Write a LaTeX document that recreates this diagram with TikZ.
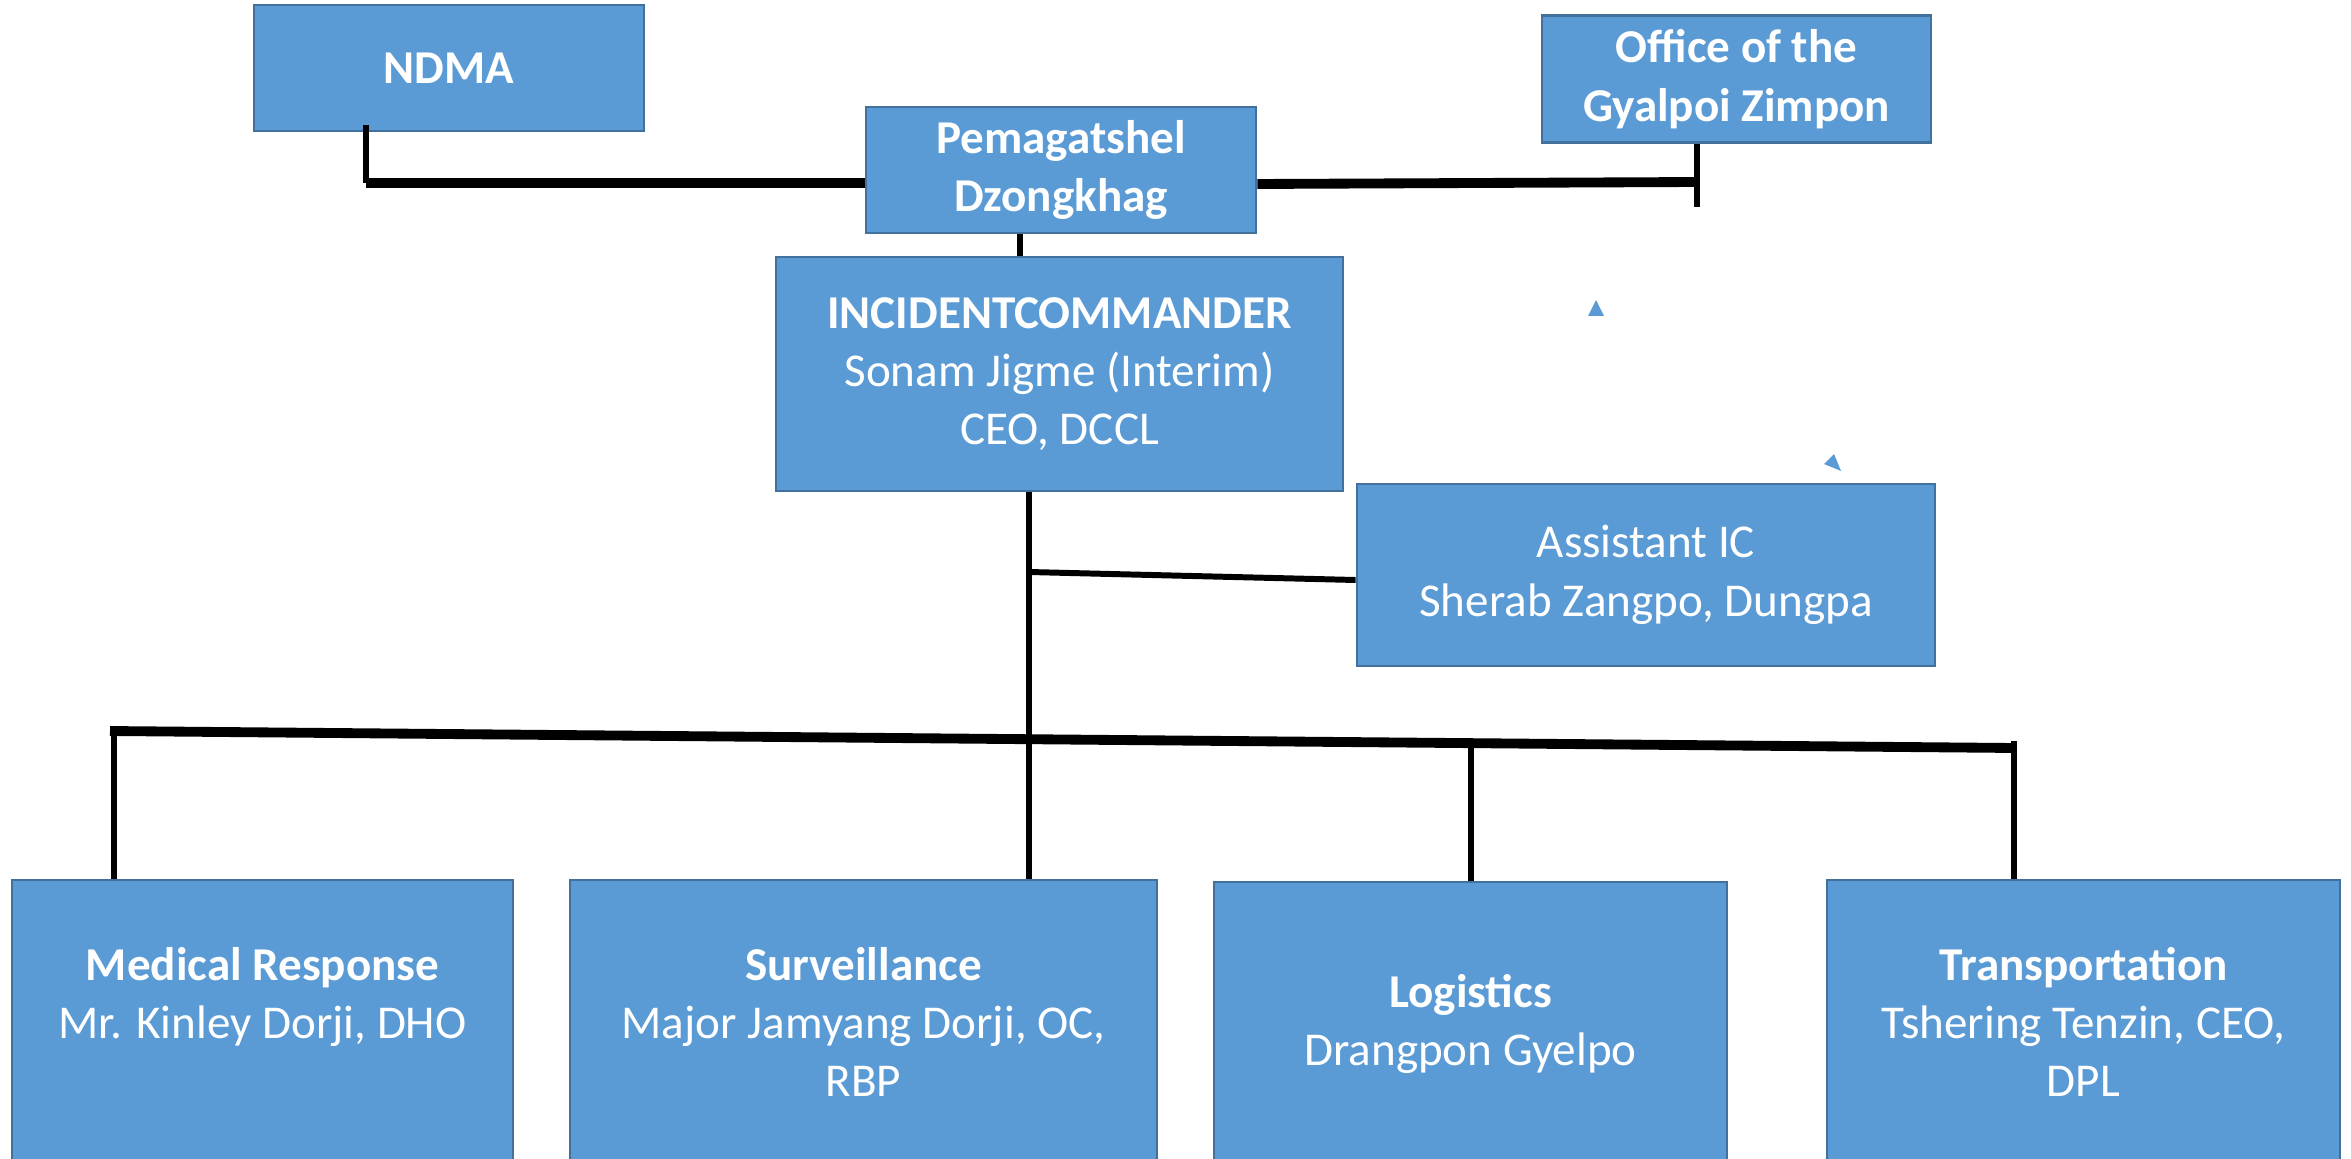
\documentclass[tikz,border=0pt]{standalone}
\usepackage{fontspec}
\setmainfont{Carlito}
\definecolor{boxblue}{HTML}{5B9BD5}
\definecolor{boxedge}{HTML}{41719C}
\tikzset{
  unit/.style={rectangle, fill=boxblue, draw=boxedge, line width=0.8pt, text=white,
    align=center, inner sep=0pt, font=\fontsize{13.4}{16.6}\selectfont},
  headunit/.style={unit, font=\fontsize{13.4}{16.6}\selectfont\bfseries},
  bar/.style={line width=2.8pt},
  link/.style={line width=1.7pt},
}

\begin{document}
\begin{tikzpicture}
    \useasboundingbox (0,0) rectangle (23.51,-11.58);
    \node[headunit, minimum width=3.9cm, minimum height=1.26cm] (ndma) at (4.49,-0.68) {NDMA};
    \node[headunit, minimum width=3.9cm, minimum height=1.26cm] (pema) at (10.61,-1.70) {Pemagatshel\\Dzongkhag};
    \node[headunit, minimum width=3.89cm, minimum height=1.27cm] (office) at (17.365,-0.79) {Office of the\\Gyalpoi Zimpon};
    \node[unit, minimum width=5.67cm, minimum height=2.34cm] (ic) at (10.595,-3.74) {\textbf{INCIDENTCOMMANDER}\\Sonam Jigme (Interim)\\CEO, DCCL};
    \node[unit, minimum width=5.78cm, minimum height=1.82cm] (asst) at (16.46,-5.75) {Assistant IC\\Sherab Zangpo, Dungpa};

    \node[unit, minimum width=5.01cm, minimum height=2.84cm] (medic) at (2.625,-10.22) {\textbf{Medical Response}\\Mr. Kinley Dorji, DHO\\\mbox{}};
    \node[unit, minimum width=5.87cm, minimum height=2.84cm] (surv) at (8.635,-10.22) {\textbf{Surveillance}\\Major Jamyang Dorji, OC,\\RBP};
    \node[unit, minimum width=5.13cm, minimum height=2.84cm] (logi) at (14.705,-10.24) {\textbf{Logistics}\\Drangpon Gyelpo};
    \node[unit, minimum width=5.13cm, minimum height=2.84cm] (trans) at (20.835,-10.22) {\textbf{Transportation}\\Tshering Tenzin, CEO,\\DPL};

    % top links
    \coordinate (ndmaknee) at (3.66,-1.83);
    \coordinate (offknee) at (16.97,-1.82);
    \draw[link] ([yshift=2pt]ndmaknee |- ndma.south) -- (ndmaknee);
    \draw[bar] (ndmaknee) -- (pema.west |- ndmaknee);
    \draw[link] (office.south -| offknee) -- ([yshift=-2.5mm]offknee);
    \draw[bar] (pema.east |- 0,-1.84) -- (offknee);
    \draw[link] (pema.south -| 10.20,0) -- (ic.north -| 10.20,0);

    % command line
    \coordinate (asstjoin) at (10.29,-5.72);
    \draw[link] (ic.south -| asstjoin) -- (surv.north -| asstjoin);
    \draw[link] (asstjoin) -- (asst.west |- 0,-5.80);

    % sections
    \coordinate (busleft) at (1.10,-7.31);
    \coordinate (busright) at (20.15,-7.48);
    \draw[bar] (busleft) -- (busright);
    \draw[link] (1.14,-7.27) -- (medic.north -| 1.14,0);
    \draw[link] (logi.north |- 0,-7.42) -- (logi.north);
    \draw[link] (20.14,-7.41) -- (trans.north -| 20.14,0);

    % stray marks
    \fill[boxblue] (15.96,-3.00) -- (15.88,-3.16) -- (16.04,-3.16) -- cycle;
    \fill[boxblue] (18.34,-4.54) -- (18.24,-4.64) -- (18.41,-4.71) -- cycle;
\end{tikzpicture}
\end{document}
